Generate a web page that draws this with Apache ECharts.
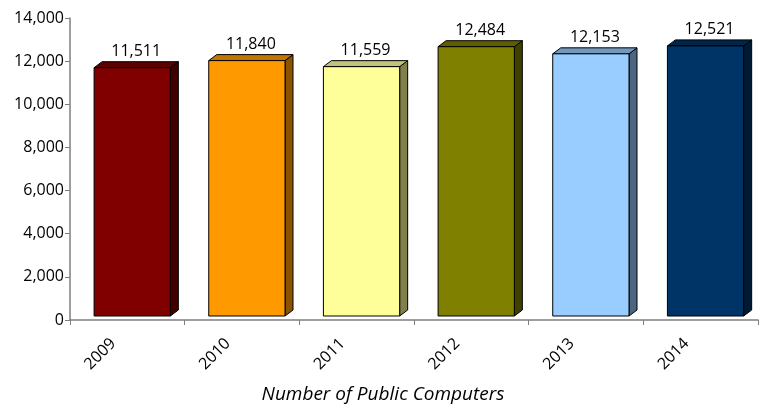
<!DOCTYPE html>
<html><head><meta charset="utf-8">
<script src="https://cdn.jsdelivr.net/npm/echarts@6/dist/echarts.min.js"></script>
<style>html,body{margin:0;padding:0;background:#fff}#c{width:767px;height:409px}</style>
</head><body><div id="c"></div>
<script>
var categories = ['2009','2010','2011','2012','2013','2014'];
var values = [11511, 11840, 11559, 12484, 12153, 12521];
var frontColors = ['#800000','#FF9900','#FFFF99','#808000','#99CCFF','#003366'];
var sideColors  = ['#400000','#8a5300','#80804c','#404000','#4c6680','#001a33'];
var topColors   = ['#5c0000','#c47500','#c2c27a','#5f5f00','#7398be','#00264c'];
var xTitle = 'Number of Public Computers';

var chart = echarts.init(document.getElementById('c'));
var FONT = '"Open Sans", sans-serif';
chart.setOption({
  animation: false,
  grid: {left: 70, right: 9, top: 18, bottom: 89},
  xAxis: {
    type: 'category', data: categories, boundaryGap: true,
    axisLine: {lineStyle: {color: '#7f7f7f', width: 1.5}},
    axisTick: {show: true, alignWithLabel: false, length: 5, lineStyle: {color: '#7f7f7f'}},
    axisLabel: {rotate: 45, color: '#000', fontFamily: FONT, fontSize: 16, margin: 7, padding: [0, 20, 0, 0]}
  },
  yAxis: {
    type: 'value', min: 0, max: 14000, interval: 2000,
    axisLine: {show: true, lineStyle: {color: '#7f7f7f', width: 1.5}},
    axisTick: {show: true, length: 5, lineStyle: {color: '#7f7f7f'}},
    splitLine: {show: false},
    axisLabel: {color: '#000', fontFamily: FONT, fontSize: 16, margin: 6,
      formatter: function(v){ return v.toLocaleString('en-US'); }}
  },
  graphic: [{type: 'text', x: 383, y: 404,
    style: {text: xTitle, font: 'italic 19px ' + FONT, fill: '#000', textAlign: 'center', textVerticalAlign: 'bottom'}}],
  series: [{
    type: 'custom',
    data: values.map(function(v, i){ return [i, v]; }),
    encode: {x: 0, y: 1},
    renderItem: function(params, api) {
      var i = api.value(0), v = api.value(1);
      var top = api.coord([i, v]);
      var base = api.coord([i, 0]);
      var bw = api.size([1, 0])[0];
      var cx = top[0];
      var off = 4, dx = 8, dy = 6;
      var l = cx - bw * 0.29, r = cx + bw * 0.375;
      var t = top[1] - off, b = base[1] - off;
      var stroke = {stroke: '#000', lineWidth: 1};
      return {
        type: 'group',
        children: [
          {type: 'polygon', shape: {points: [[r, t], [r + dx, t - dy], [r + dx, b - dy], [r, b]]},
            style: Object.assign({fill: sideColors[i]}, stroke)},
          {type: 'polygon', shape: {points: [[l, t], [l + dx, t - dy], [r + dx, t - dy], [r, t]]},
            style: Object.assign({fill: topColors[i]}, stroke)},
          {type: 'rect', shape: {x: l, y: t, width: r - l, height: b - t},
            style: Object.assign({fill: frontColors[i]}, stroke)},
          {type: 'text', style: {text: v.toLocaleString('en-US'), x: (l + r + dx) / 2, y: t - dy - 2,
            align: 'center', verticalAlign: 'bottom', font: '16px ' + FONT, fill: '#000'}}
        ]
      };
    }
  }]
});
</script></body></html>
